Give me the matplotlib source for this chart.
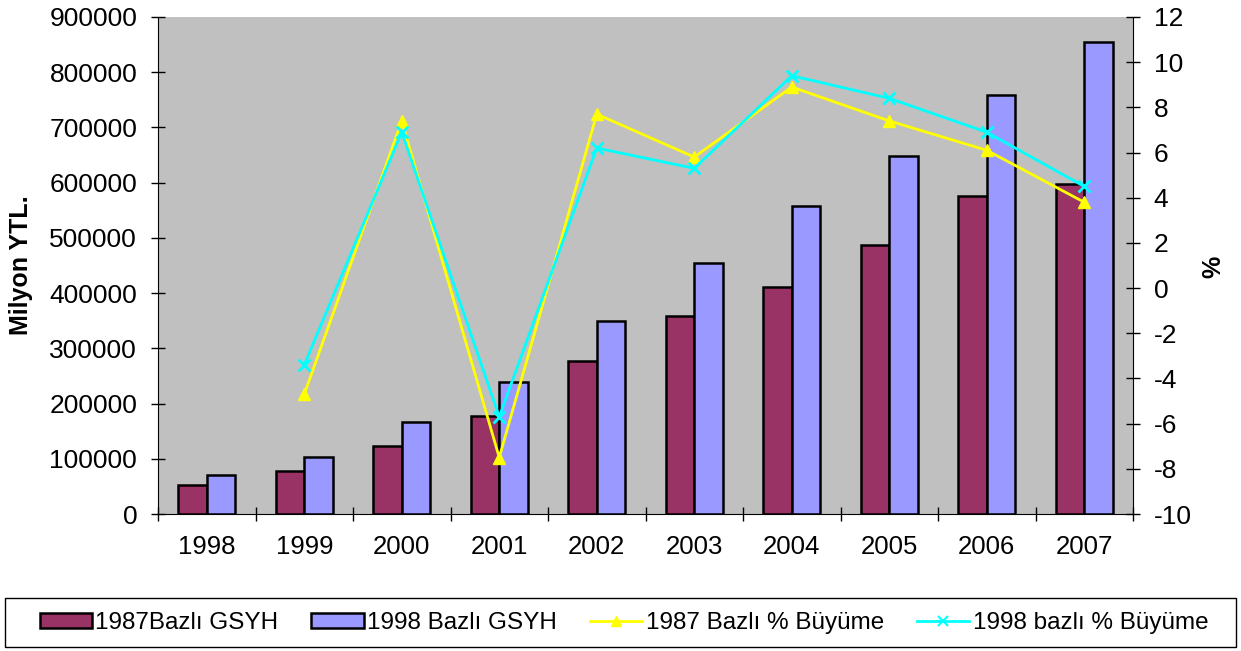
import numpy as np
import matplotlib
matplotlib.use('Agg')
import matplotlib.pyplot as plt
from matplotlib.patches import Patch, Rectangle
from matplotlib.lines import Line2D

plt.rcParams['font.family'] = ['Liberation Sans', 'DejaVu Sans']
plt.rcParams['axes.unicode_minus'] = False

# data
years = ['1998', '1999', '2000', '2001', '2002', '2003', '2004', '2005', '2006', '2007']
gsyh_1987 = [52000, 77000, 123000, 177500, 277000, 359000, 411000, 487000, 576000, 597500]
gsyh_1998 = [70000, 104000, 166000, 239000, 350000, 455000, 558000, 648000, 758000, 855000]
growth_1987 = [np.nan, -4.7, 7.4, -7.5, 7.7, 5.8, 8.9, 7.4, 6.1, 3.8]
growth_1998 = [np.nan, -3.4, 6.9, -5.7, 6.2, 5.3, 9.4, 8.4, 6.9, 4.5]

x = np.arange(len(years))
w = 0.29

fig = plt.figure(figsize=(12.41, 6.51), dpi=100)
ax = fig.add_axes([158/1241, 137/651, 975/1241, 497/651])
ax.set_facecolor('#C0C0C0')

ax.bar(x - w/2, gsyh_1987, w, color='#993366', edgecolor='black', linewidth=1.8)
ax.bar(x + w/2, gsyh_1998, w, color='#9999FF', edgecolor='black', linewidth=1.8)

ax.set_xlim(-0.5, len(years) - 0.5)
ax.set_ylim(0, 900000)
ax.set_yticks(np.arange(0, 900001, 100000))
ax.set_xticks(np.arange(-0.5, len(years), 1))
ax.set_xticklabels([])
ax.set_xticks(x, minor=True)
ax.set_xticklabels(years, minor=True)
ax.tick_params(axis='x', which='minor', length=0, pad=15, labelsize=18.5)
ax.tick_params(axis='x', which='major', direction='inout', length=10, width=1)
ax.tick_params(axis='y', direction='inout', length=10, width=1, labelsize=19, pad=10)
for s in ax.spines.values():
    s.set_visible(False)
ax.spines['left'].set_visible(True)
ax.spines['bottom'].set_visible(True)

ax2 = ax.twinx()
ax2.plot(x, growth_1987, color='#FFFF00', linewidth=2, marker='^', markersize=9)
ax2.plot(x, growth_1998, color='#00FFFF', linewidth=2, marker='x', markersize=9, markeredgewidth=2)
ax2.set_ylim(-10, 12)
ax2.set_yticks(np.arange(-10, 13, 2))
ax2.tick_params(axis='y', direction='inout', length=10, width=1, labelsize=19, pad=10)
for s in ['top', 'left', 'bottom']:
    ax2.spines[s].set_visible(False)

fig.text(21/1241, 1 - 265/651, 'Milyon YTL.', rotation=90, fontsize=18, fontweight='bold',
         ha='center', va='center')
fig.text(1213/1241, 1 - 267/651, '%', rotation=90, fontsize=18, fontweight='bold',
         ha='center', va='center')

handles = [
    Patch(facecolor='#993366', edgecolor='black', linewidth=1.8),
    Patch(facecolor='#9999FF', edgecolor='black', linewidth=1.8),
    Line2D([], [], color='#FFFF00', linewidth=2, marker='^', markersize=7),
    Line2D([], [], color='#00FFFF', linewidth=2, marker='x', markersize=7, markeredgewidth=1.5),
]
labels = ['1987Bazlı GSYH', '1998 Bazlı GSYH', '1987 Bazlı % Büyüme', '1998 bazlı % Büyüme']
leg = fig.legend(handles, labels, loc='center', ncol=4,
                 bbox_to_anchor=(624/1241, 1 - 623/651),
                 fontsize=17.5, frameon=False,
                 handlelength=2.15, handleheight=0.6, handletextpad=0.15,
                 columnspacing=1.35, borderaxespad=0)
fig.patches.append(Rectangle((5/1241, 4/651), 1231/1241, 49/651, transform=fig.transFigure,
                             fill=False, edgecolor='black', linewidth=1))

fig.savefig('out.png', dpi=100)
